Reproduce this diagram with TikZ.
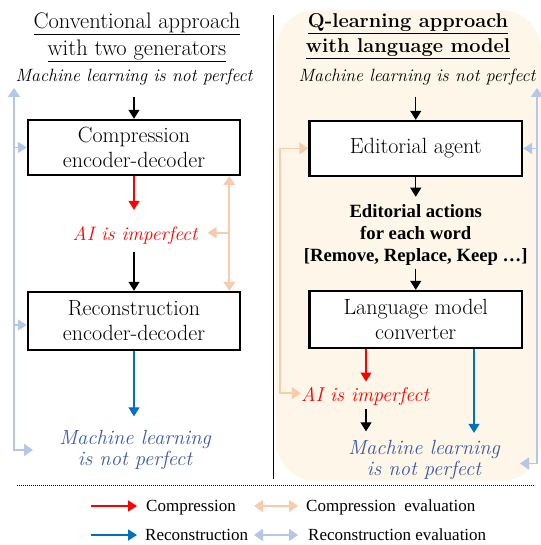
\documentclass[tikz,border=0pt]{standalone}
\usepackage{fontspec}
\newfontfamily\legfnt{Liberation Serif}
\usetikzlibrary{arrows.meta}
\definecolor{cred}{HTML}{FF0000}
\definecolor{corange}{HTML}{F8CBAD}
\definecolor{clblue}{HTML}{B4C7E7}
\definecolor{cblue}{HTML}{0070C0}
\definecolor{ctxtblue}{HTML}{3A5BA0}
\definecolor{cbg}{HTML}{FEF6E8}
\begin{document}
\begin{tikzpicture}[x=1pt,y=-1pt,
  box/.style={draw, line width=2.4pt, fill=white, align=center, inner sep=0pt,
    font=\fontsize{22}{25}\selectfont},
  txt/.style={inner sep=0pt, align=center},
  tipA/.style={-{Triangle[length=9pt,width=11pt]}},
  blk/.style={tipA, line width=1.1pt, color=black},
  redar/.style={tipA, line width=1.1pt, color=cred},
  bluar/.style={tipA, line width=1.3pt, color=cblue},
  orline/.style={color=corange, line width=1.8pt},
  lbline/.style={color=clblue, line width=1.8pt},
  dbl/.style={{Triangle[length=9pt,width=12pt]}-{Triangle[length=9pt,width=12pt]}},
  leg/.style={inner sep=0pt, anchor=base west, font=\legfnt\fontsize{17}{20}\selectfont}
]
\useasboundingbox (0,0) rectangle (540,545);
% right panel background
\fill[cbg, rounded corners=40pt] (276,10) rectangle (541,481);
% divider
\coordinate (dvt) at (273,15);
\coordinate (dvb) at (273,479);
\draw[line width=0.9pt] (dvt) -- (dvb);

% ---------- left panel ----------
\node[txt, font=\fontsize{22.5}{27}\selectfont] (lt) at (137,37)
  {\underline{Conventional approach}\\\underline{with two generators}};
\node[txt, anchor=base, font=\itshape\fontsize{17.8}{20}\selectfont] (lml) at (134,82)
  {Machine learning is not perfect};
\node[box, minimum width=212pt, minimum height=55pt] (comp) at (134,147.5)
  {Compression\\encoder-decoder};
\node[txt, anchor=base, text=cred, font=\itshape\fontsize{19.5}{22}\selectfont] (lai) at (135,240)
  {AI is imperfect};
\node[box, minimum width=212pt, minimum height=58pt] (recon) at (134,321)
  {Reconstruction\\encoder-decoder};
\node[txt, text=ctxtblue, font=\itshape\fontsize{20.5}{20.5}\selectfont] (lout) at (135,450)
  {Machine learning\\is not perfect};

\draw[blk, shorten <=11pt] (lml.south -| comp.north) -- (comp.north);
\draw[redar, shorten >=16pt] (comp.south) -- (comp.south |- lai.north);
\draw[blk, shorten <=8pt] (recon.north |- lai.south) -- (recon.north);
\draw[bluar, shorten >=14pt] (recon.south) -- (recon.south |- lout.north);

% left feedback lines
\coordinate (lbt) at (14,88);
\coordinate (lbb) at (14,450);
\coordinate (ltip) at (33,450);
\draw[lbline, dbl] (lbt) -- (lbb) -- (ltip);
\draw[lbline, tipA] (comp.west -| lbt) -- (comp.west);
\draw[lbline, tipA] ([yshift=-4pt]recon.west -| lbt) -- ([yshift=-4pt]recon.west);
\coordinate (olx) at (229.3,232.7);
\draw[orline, dbl] (comp.south -| olx) -- (recon.north -| olx);
\draw[orline, tipA, shorten >=10pt] (olx) -- (lai.east |- olx);

% ---------- right panel ----------
\node[txt, font=\bfseries\fontsize{20}{25}\selectfont] (rt) at (408,36)
  {\underline{Q-learning approach}\\\underline{with language model}};
\node[txt, anchor=base, font=\itshape\fontsize{17.8}{20}\selectfont] (rml) at (417,82)
  {Machine learning is not perfect};
\node[box, minimum width=212.5pt, minimum height=55pt] (agent) at (415.75,148.5)
  {Editorial agent};
\node[txt, font=\legfnt\bfseries\fontsize{18.7}{22}\selectfont] (acts) at (415.75,235.4)
  {Editorial actions\\for each word\\{[Remove, Replace, Keep …]}};
\node[box, minimum width=212.5pt, minimum height=57pt] (lm) at (415.75,319.5)
  {Language model\\converter};
\node[txt, anchor=base, text=cred, font=\itshape\fontsize{20}{22}\selectfont] (rai) at (365,401)
  {AI is imperfect};
\node[txt, text=ctxtblue, font=\itshape\fontsize{20.5}{20.5}\selectfont] (rout) at (424,460)
  {Machine learning\\is not perfect};

\draw[blk, shorten <=11pt] (rml.south -| agent.north) -- (agent.north);
\draw[blk, shorten >=8pt] (agent.south) -- (agent.south |- acts.north);
\draw[blk, shorten <=2.5pt] (lm.north |- acts.south) -- (lm.north);
\coordinate (rrx) at (366,0);
\draw[redar, shorten >=5pt] (lm.south -| rrx) -- (rai.north -| rrx);
\draw[blk, shorten <=4pt, shorten >=9pt] (rai.south -| rrx) -- (rout.north -| rrx);
\coordinate (rbx) at (474,0);
\draw[bluar, shorten >=7.5pt] (lm.south -| rbx) -- (rout.north -| rbx);

% right feedback lines
\coordinate (orb) at (280,393.3);
\draw[orline, dbl] (agent.west) -- (agent.west -| orb) -- (orb) -- (rai.west |- orb);
\coordinate (rbt) at (537,88);
\coordinate (rbb) at (537,463.5);
\coordinate (rtip) at (520,463.5);
\draw[lbline, dbl] (rbt) -- (rbb) -- (rtip);
\draw[lbline, tipA] (agent.east -| rbt) -- (agent.east);

% ---------- legend ----------
\coordinate (sepl) at (17,485.5);
\coordinate (sepr) at (535,485.5);
\draw[line width=0.8pt, dash pattern=on 0.8pt off 1.2pt] (sepl) -- (sepr);

\node[leg] (lg1) at (146,511) {Compression};
\node[leg] (lg2) at (306,511) {Compression\ \ evaluation};
\node[leg] (lg3) at (145,540) {Reconstruction};
\node[leg] (lg4) at (308,540) {Reconstruction evaluation};

\coordinate (a1s) at (91,506);  \coordinate (a1e) at (137,506);
\coordinate (a2s) at (254,506); \coordinate (a2e) at (298,506);
\coordinate (a3s) at (91,535);  \coordinate (a3e) at (137,535);
\coordinate (a4s) at (254,535); \coordinate (a4e) at (298,535);
\draw[redar, line width=1.5pt] (a1s) -- (a1e);
\draw[orline, dbl] (a2s) -- (a2e);
\draw[bluar, line width=1.6pt] (a3s) -- (a3e);
\draw[lbline, dbl] (a4s) -- (a4e);
\end{tikzpicture}
\end{document}
